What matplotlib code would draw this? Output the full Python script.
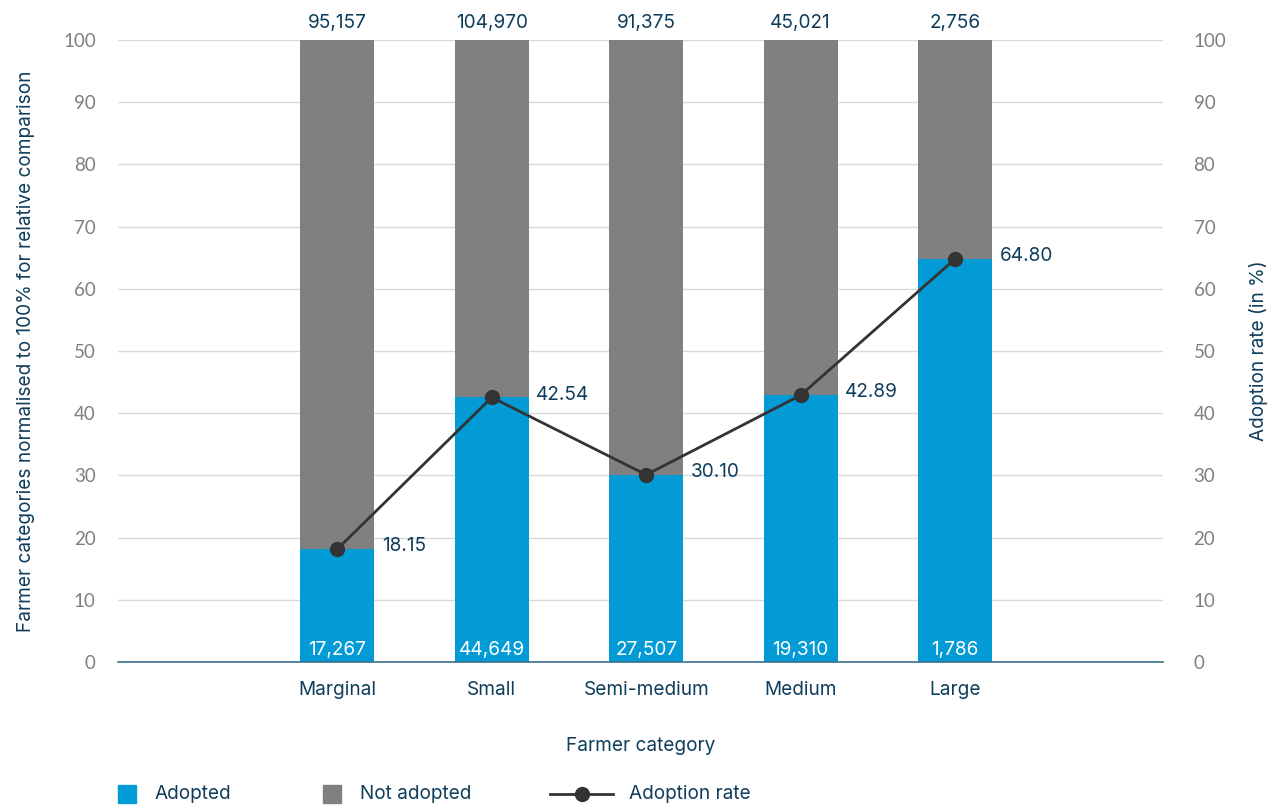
import matplotlib.pyplot as plt
from matplotlib.patches import Rectangle
from matplotlib.lines import Line2D
import numpy as np

plt.rcParams['font.family'] = ['Inter', 'DejaVu Sans']

categories = ["Marginal", "Small", "Semi-medium", "Medium", "Large"]
adopted_count = [17267, 44649, 27507, 19310, 1786]
total_count = [95157, 104970, 91375, 45021, 2756]
adoption_rate = [18.15, 42.54, 30.10, 42.89, 64.80]

BLUE = "#039bd6"
GREY = "#808080"
NAVY = "#0f3d5c"
TICK = "#7f7f7f"
LINE = "#333333"
FS = 13.7
TICK_FONT = ['Lato', 'DejaVu Sans']

fig = plt.figure(figsize=(12.79, 8.05), dpi=100)
ax = fig.add_axes([118 / 1279, 1 - 662 / 805, (1163 - 118) / 1279, (662 - 40) / 805])

x = np.arange(len(categories))
rate = np.array(adoption_rate)
w = 0.48

ax.bar(x, rate, w, color=BLUE, zorder=2)
ax.bar(x, 100 - rate, w, bottom=rate, color=GREY, zorder=2)

for xi, a, t in zip(x, adopted_count, total_count):
    ax.text(xi, 2.0, f"{a:,}", ha="center", va="center", color="white", fontsize=FS)
    ax.text(xi, 102.8, f"{t:,}", ha="center", va="center", color=NAVY, fontsize=FS)

ax.set_xlim(-1.42, len(categories) - 1 + 1.346)
ax.set_ylim(0, 100)
ax.set_yticks(range(0, 101, 10))
ax.set_xticks(x)
ax.set_xticklabels(categories)
ax.tick_params(axis="x", length=0, pad=14, labelsize=FS, labelcolor=NAVY)
ax.tick_params(axis="y", length=0, pad=16, labelsize=13.5, labelcolor=TICK)
for lbl in ax.get_yticklabels():
    lbl.set_family(TICK_FONT)
ax.grid(axis="y", color="#d9d9d9", linewidth=1, zorder=0)
for s in ("left", "right", "top"):
    ax.spines[s].set_visible(False)
ax.spines["bottom"].set_color("#3a6f8c")
ax.spines["bottom"].set_linewidth(1.2)
ax.spines["bottom"].set_zorder(3)

ax.set_xlabel("Farmer category", fontsize=FS, color=NAVY, labelpad=27)
ax.set_ylabel("Farmer categories normalised to 100% for relative comparison",
              fontsize=FS, color=NAVY, labelpad=20)

# adoption rate on the secondary axis
ax2 = ax.twinx()
ax2.set_ylim(0, 100)
ax2.set_yticks(range(0, 101, 10))
ax2.tick_params(axis="y", length=0, pad=22, labelsize=13.5, labelcolor=TICK)
for lbl in ax2.get_yticklabels():
    lbl.set_family(TICK_FONT)
for s in ax2.spines.values():
    s.set_visible(False)
ax2.plot(x, rate, color=LINE, linewidth=2, marker="o", markersize=10, zorder=4)
for xi, r in zip(x, adoption_rate):
    ax2.annotate(f"{r:.2f}", (xi, r), xytext=(32, 2), textcoords="offset points",
                 ha="left", va="center", color=NAVY, fontsize=FS)
ax2.set_ylabel("Adoption rate (in %)", fontsize=FS, color=NAVY, labelpad=16)

# legend along the bottom
ly = 1 - 794 / 805
sq = 18
fig.patches.append(Rectangle((118 / 1279, ly - sq / 2 / 805), sq / 1279, sq / 805,
                             transform=fig.transFigure, color=BLUE))
fig.text(155 / 1279, ly, "Adopted", va="center", color=NAVY, fontsize=FS)
fig.patches.append(Rectangle((323 / 1279, ly - sq / 2 / 805), sq / 1279, sq / 805,
                             transform=fig.transFigure, color=GREY))
fig.text(360 / 1279, ly, "Not adopted", va="center", color=NAVY, fontsize=FS)
fig.lines.append(Line2D([550 / 1279, 613 / 1279], [ly, ly], transform=fig.transFigure,
                        color=LINE, linewidth=2))
fig.lines.append(Line2D([581.5 / 1279], [ly], transform=fig.transFigure,
                        color=LINE, marker="o", markersize=10))
fig.text(629 / 1279, ly, "Adoption rate", va="center", color=NAVY, fontsize=FS)

fig.savefig("out.png", dpi=100)
